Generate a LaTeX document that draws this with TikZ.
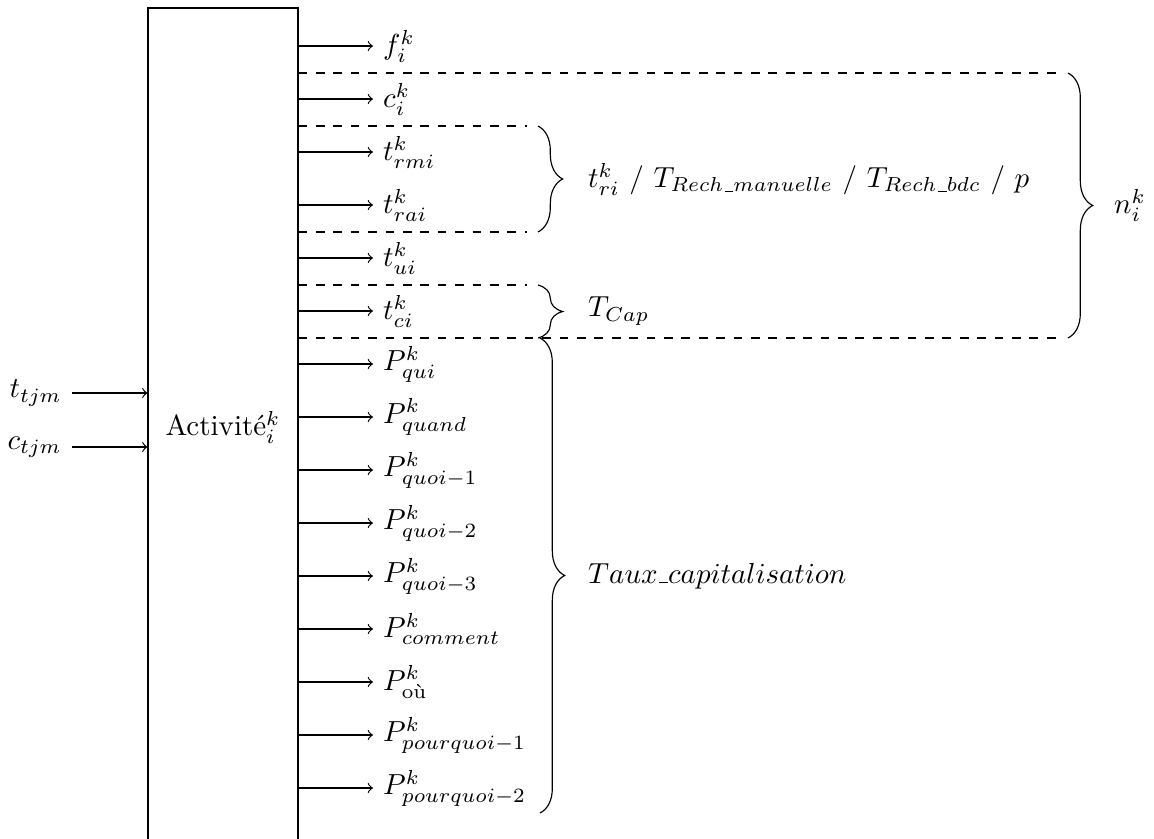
\documentclass[tikz,border=0pt]{standalone}
\usepackage{amsmath}
\usetikzlibrary{decorations.pathreplacing}
\newcommand{\usc}{\kern.06em\vbox{\hrule width.3em}}
\begin{document}
\begin{tikzpicture}[x=0.3448pt,y=-0.3448pt,
  lab/.style={anchor=west},
  inlab/.style={anchor=east},
  outarrow/.style={->},
  sepline/.style={dashed},
  brc/.style={decorate,decoration={brace,amplitude=8.5pt}},
  brlab/.style={anchor=west}]
\useasboundingbox (0,0) rectangle (1154,838);
\begin{scope}
\clip (0,0) rectangle (1154,838);
\node[draw,minimum width=51.72pt,minimum height=288.9pt,inner sep=0pt] (act) at (223,427) {Activité$_i^k$};

% inputs
\node[inlab] (ttjm) at (72,393) {$t_{tjm}$};
\node[inlab] (ctjm) at (72,447) {$c_{tjm}$};
\draw[outarrow] (ttjm.east) -- (act.west |- ttjm.east);
\draw[outarrow] (ctjm.east) -- (act.west |- ctjm.east);

% outputs
\foreach \n/\y/\t in {
  f/46/{$f_i^k$},
  c/99/{$c_i^k$},
  trmi/152/{$t_{rmi}^k$},
  trai/205/{$t_{rai}^k$},
  tui/258/{$t_{ui}^k$},
  tci/311/{$t_{ci}^k$},
  pqui/364/{$P_{qui}^k$},
  pquand/417/{$P_{quand}^k$},
  pquoia/470/{$P_{quoi-1}^k$},
  pquoib/523/{$P_{quoi-2}^k$},
  pquoic/576/{$P_{quoi-3}^k$},
  pcomment/629/{$P_{comment}^k$},
  pou/682/{$P_{\text{où}}^k$},
  ppqa/735/{$P_{pourquoi-1}^k$},
  ppqb/788/{$P_{pourquoi-2}^k$}}{
  \node[lab] (\n) at (373,\y) {\t};
  \draw[outarrow] (act.east |- \n.west) -- (\n.west);
}

% dashed separators
\coordinate (d1) at (1060,73);
\coordinate (d2) at (527,126);
\coordinate (d3) at (527,232);
\coordinate (d4) at (527,285);
\coordinate (d5) at (1060,338);
\foreach \d in {d1,d2,d3,d4,d5}{
  \draw[sepline] (act.east |- \d) -- (\d);
}

% braces
\coordinate (b1t) at (538,126); \coordinate (b1b) at (538,232);
\coordinate (b2t) at (538,285); \coordinate (b2b) at (538,338);
\coordinate (b3t) at (540,338); \coordinate (b3b) at (540,813);
\coordinate (b4t) at (1068,73); \coordinate (b4b) at (1068,338);
\draw[brc] (b1t) -- (b1b);
\draw[brc] (b2t) -- (b2b);
\draw[brc] (b3t) -- (b3b);
\draw[brc] (b4t) -- (b4b);

\node[brlab] (lr) at (578,179) {$t_{ri}^k$ / $T_{Rech\usc manuelle}$ / $T_{Rech\usc bdc}$ / $p$};
\node[brlab] (lcap) at (578,311) {$T_{Cap}$};
\node[brlab] (ltaux) at (578,576) {$Taux\usc capitalisation$};
\node[brlab] (ln) at (1104,205) {$n_i^k$};
\end{scope}
\end{tikzpicture}
\end{document}
